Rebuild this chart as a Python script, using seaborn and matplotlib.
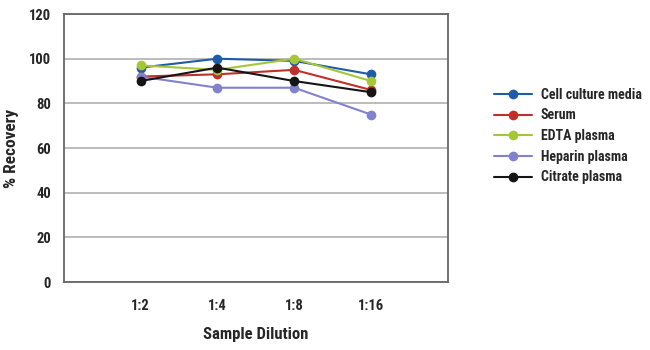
import numpy as np
import pandas as pd
import matplotlib
matplotlib.use("Agg")
import matplotlib.pyplot as plt
import seaborn as sns

# 数据
dilutions = ['1:2', '1:4', '1:8', '1:16']
cell_culture = [96, 100, 99, 93]
serum = [92, 93, 95, 86]
edta = [97, 95, 100, 90]
heparin = [92, 87, 87, 75]
citrate = [90, 96, 90, 85]

series_names = ['Cell culture media', 'Serum', 'EDTA plasma', 'Heparin plasma', 'Citrate plasma']
colors = ['#1f5ca8', '#c0302a', '#a6c63a', '#8282cc', '#151515']

sns.set_style('white')
plt.rcParams['font.family'] = ['Roboto Condensed', 'Open Sans Condensed',
                               'Liberation Sans Narrow', 'Liberation Sans', 'DejaVu Sans']
plt.rcParams['font.weight'] = 'bold'

rows = []
for name, vals in zip(series_names, [cell_culture, serum, edta, heparin, citrate]):
    for i, v in enumerate(vals):
        rows.append({'x': i + 1, 'dilution': dilutions[i], 'value': v, 'series': name})
df = pd.DataFrame(rows)

fig = plt.figure(figsize=(6.5, 3.5), dpi=100)
ax = fig.add_axes([0.098, 0.194, 0.591, 0.766])

sns.lineplot(data=df, x='x', y='value', hue='series', hue_order=series_names,
             palette=colors, marker='o', markersize=7, markeredgewidth=0,
             linewidth=1.5, ax=ax, legend=False)

ax.set_xlim(0, 5)
ax.set_ylim(0, 120)
ax.set_xticks([1, 2, 3, 4])
ax.set_xticklabels(dilutions)
ax.set_yticks(range(0, 121, 20))
ax.yaxis.grid(True, color='#b0b0b0', linewidth=1.2)
ax.set_axisbelow(True)
for s in ax.spines.values():
    s.set_color('#666666')
    s.set_linewidth(1.3)
ax.tick_params(axis='both', direction='out', length=4, color='#666666',
               labelsize=10.5, pad=5)
ax.tick_params(axis='x', pad=8)
ax.set_xlabel('Sample Dilution', fontsize=12, fontweight='bold', labelpad=10)
ax.set_ylabel('% Recovery', fontsize=12.5, fontweight='bold', labelpad=7)

handles = [plt.Line2D([], [], color=c, marker='o', markersize=7, markeredgewidth=0,
                      linewidth=1.5) for c in colors]
fig.legend(handles, series_names, loc='upper left', bbox_to_anchor=(0.74, 0.785),
           frameon=False, fontsize=10, handlelength=2.8, labelspacing=0.48,
           handletextpad=0.6)

fig.savefig('out.png', dpi=100)
